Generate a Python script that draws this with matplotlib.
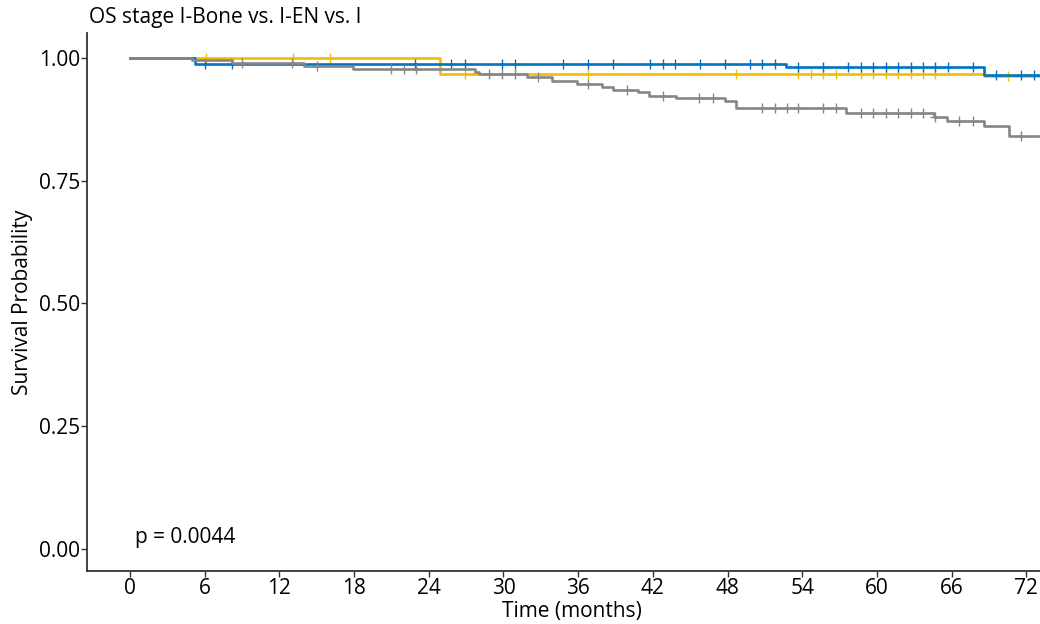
import matplotlib
matplotlib.use("Agg")
import matplotlib.pyplot as plt
import numpy as np

plt.rcParams['font.family'] = ['Open Sans', 'DejaVu Sans']

# step times (months) and survival values
gray_t = [0, 5.0, 8.2, 14.0, 17.9, 27.7, 28.0, 31.9, 33.9, 35.9, 37.9, 38.8,
          40.8, 41.7, 43.9, 47.8, 48.7, 57.5, 64.6, 65.6, 68.6, 70.6]
gray_s = [1.0, 0.996, 0.991, 0.984, 0.978, 0.972, 0.967, 0.961, 0.954, 0.948,
          0.942, 0.935, 0.930, 0.923, 0.918, 0.913, 0.898, 0.889, 0.879, 0.871,
          0.862, 0.842]
blue_t = [0, 5.2, 52.7, 68.6]
blue_s = [1.0, 0.988, 0.982, 0.965]
yellow_t = [0, 24.9, 68.6]
yellow_s = [1.0, 0.968, 0.964]

# censor times
gray_c = [9, 13, 15, 21, 22, 23, 28.8, 29.9, 30.9, 32.8, 36.8, 39.9, 42.8,
          45.7, 46.8, 50.8, 51.8, 52.8, 53.7, 55.7, 56.7, 58.7, 59.7, 60.7,
          61.7, 62.7, 63.7, 64.7, 66.6, 67.7, 71.6]
blue_c = [6, 8.2, 22.9, 25.8, 26.9, 29.9, 30.9, 34.8, 36.8, 38.8, 41.8, 42.8,
          43.8, 45.8, 47.8, 49.8, 50.8, 51.8, 53.7, 55.7, 57.7, 58.7, 59.7,
          60.7, 61.7, 62.7, 63.7, 64.7, 65.7, 67.7, 69.6, 71.6, 72.6]
yellow_c = [6.1, 13.1, 16.1, 26.9, 36.8, 48.7, 53.7, 54.7, 55.7, 56.7, 58.7,
            59.7, 60.7, 61.7, 62.7, 63.7, 64.7, 70.5]

x_ticks = [0, 6, 12, 18, 24, 30, 36, 42, 48, 54, 60, 66, 72]
y_ticks = [0.0, 0.25, 0.5, 0.75, 1.0]
t_end = 75
fs = 15


def surv_at(times, vals, t):
    idx = np.searchsorted(times, t, side='right') - 1
    return np.array(vals)[idx]


fig = plt.figure(figsize=(10.4, 6.24), dpi=100)
ax = fig.add_axes([0.0837, 0.085, 0.9163, 0.862])

curves = [
    (yellow_t, yellow_s, yellow_c, '#EFC000'),
    (blue_t, blue_s, blue_c, '#0073C2'),
    (gray_t, gray_s, gray_c, '#868686'),
]
for t, s, c, col in curves:
    tt = list(t) + [t_end]
    ss = list(s) + [s[-1]]
    ax.step(tt, ss, where='post', color=col, lw=1.9)
    ax.plot(c, surv_at(t, s, c), ls='none', marker='+', ms=7, mew=1.0,
            color=col)

ax.text(0.4, 0.024, 'p = 0.0044', fontsize=fs, va='center', ha='left')

ax.set_xlim(-3.45, 73.1)
ax.set_ylim(-0.045, 1.051)
ax.set_xticks(x_ticks)
ax.set_yticks(y_ticks)
ax.set_yticklabels(['0.00', '0.25', '0.50', '0.75', '1.00'])
ax.tick_params(labelsize=fs, length=4, width=1, color='#333333', pad=1)
for side in ['top', 'right']:
    ax.spines[side].set_visible(False)
for side in ['left', 'bottom']:
    ax.spines[side].set_linewidth(1.3)
    ax.spines[side].set_color('#333333')

ax.set_xlabel('Time (months)', fontsize=fs)
ax.xaxis.set_label_coords((572 - 87) / (1040 - 87), -0.055)
ax.set_ylabel('Survival Probability', fontsize=fs)
ax.yaxis.set_label_coords(-0.057, 0.5)

fig.text(89 / 1040, 1 - 18 / 624, 'OS stage I-Bone vs. I-EN vs. I',
         fontsize=fs, ha='left', va='center')

fig.savefig('out.png', dpi=100)
